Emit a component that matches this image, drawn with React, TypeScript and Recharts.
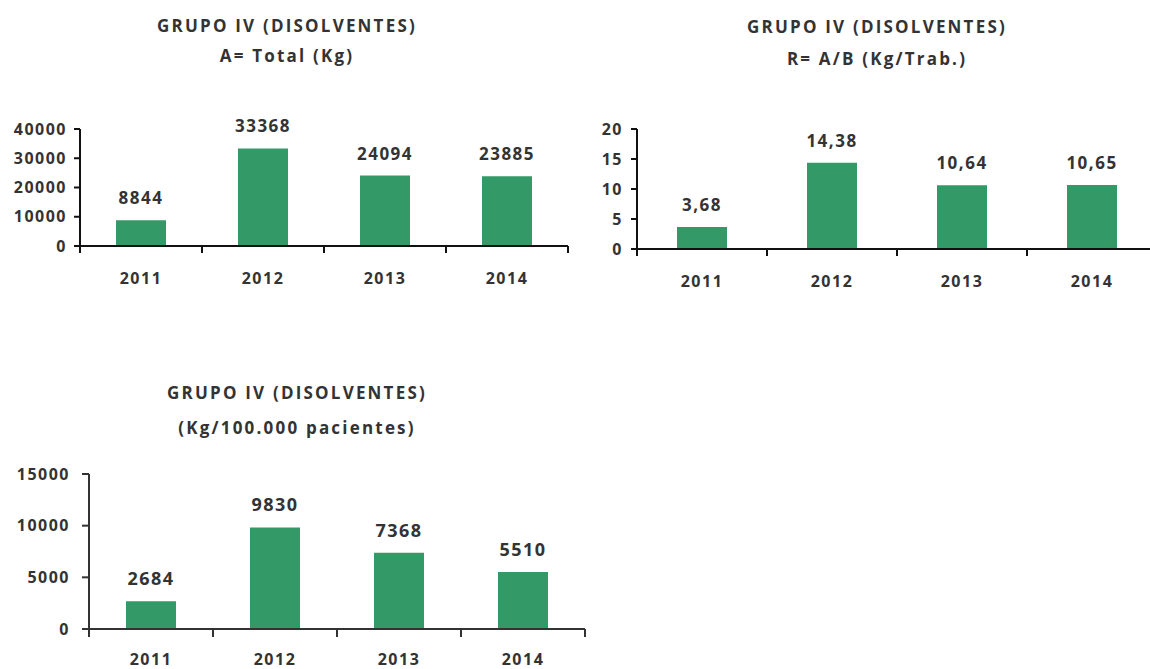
import { BarChart, Bar, XAxis, YAxis, LabelList } from "recharts";

const years = ["2011", "2012", "2013", "2014"];
const totalKg = [8844, 33368, 24094, 23885];
const kgPerWorker = [3.68, 14.38, 10.64, 10.65];
const kgPerPatients = [2684, 9830, 7368, 5510];

const totalTicks = [0, 10000, 20000, 30000, 40000];
const workerTicks = [0, 5, 10, 15, 20];
const patientTicks = [0, 5000, 10000, 15000];

const groupTitle = "GRUPO IV (DISOLVENTES)";
const subTitles = ["A= Total (Kg)", "R= A/B (Kg/Trab.)", "(Kg/100.000 pacientes)"];

const GREEN = "#339966";
const TEXT = "#333333";
const FONT = "'Open Sans', 'Liberation Sans', sans-serif";

type PanelProps = {
	left: number;
	top: number;
	width: number;
	height: number;
	margin: { top: number; right: number; left: number; bottom: number };
	yWidth: number;
	values: number[];
	ticks: number[];
	format?: (v: number) => string;
	title: string[];
	titleX: number;
	titleY: number;
	lineGap: number;
	labelSize: number;
	axisColor: string;
	tickLen: number;
	yMargin: number;
	catHeight: number;
	labelDy: number;
};

// category tick: label in the middle, tick marks on the band edges (Excel style)
function CatTick(props: any) {
	const { x, y, payload, index, band, tickLen, labelDy, color, count } = props;
	const half = band / 2;
	return (
		<g>
			<line x1={x - half} x2={x - half} y1={y} y2={y + tickLen} stroke={color} strokeWidth={2} />
			{index === count - 1 && (
				<line x1={x + half} x2={x + half} y1={y} y2={y + tickLen} stroke={color} strokeWidth={2} />
			)}
			<text
				x={x}
				y={y + labelDy}
				textAnchor="middle"
				fill={TEXT}
				fontSize={16}
				fontWeight={700}
				fontFamily={FONT}
			>
				{payload.value}
			</text>
		</g>
	);
}

function Panel(p: PanelProps) {
	const data = years.map((y, i) => ({ year: y, value: p.values[i] }));
	const fmt = p.format || ((v: number) => String(v));
	const band = (p.width - p.margin.left - p.margin.right - p.yWidth) / years.length;
	const tickStyle = { fill: TEXT, fontSize: 16, fontWeight: 700, fontFamily: FONT };
	return (
		<>
			<div
				style={{
					position: "absolute",
					left: p.titleX - 200,
					top: p.titleY,
					width: 400,
					textAlign: "center",
					fontFamily: FONT,
					fontWeight: 700,
					fontSize: 17,
					letterSpacing: 2.2,
					lineHeight: `${p.lineGap}px`,
					color: TEXT,
				}}
			>
				{p.title.map((t) => (
					<div key={t}>{t}</div>
				))}
			</div>
			<div
				style={{
					position: "absolute",
					left: p.left,
					top: p.top,
					letterSpacing: 1.5,
				}}
			>
				<BarChart width={p.width} height={p.height} data={data} margin={p.margin}>
					<XAxis
						dataKey="year"
						height={p.catHeight}
						axisLine={{ stroke: p.axisColor, strokeWidth: 2 }}
						tickLine={false}
						tickSize={0}
						tickMargin={0}
						interval={0}
						tick={
							<CatTick
								band={band}
								tickLen={p.tickLen}
								labelDy={p.labelDy}
								color={p.axisColor}
								count={years.length}
							/>
						}
					/>
					<YAxis
						width={p.yWidth}
						domain={[p.ticks[0], p.ticks[p.ticks.length - 1]]}
						ticks={p.ticks}
						interval={0}
						tickSize={p.tickLen - 1}
						tickMargin={p.yMargin}
						axisLine={{ stroke: p.axisColor, strokeWidth: 2 }}
						tickLine={{ stroke: p.axisColor, strokeWidth: 2 }}
						tick={tickStyle}
					/>
					<Bar dataKey="value" fill={GREEN} barSize={50} isAnimationActive={false}>
						<LabelList
							dataKey="value"
							position="top"
							offset={16}
							formatter={(v: any) => fmt(Number(v))}
							style={{ fill: TEXT, fontSize: p.labelSize, fontWeight: 700, fontFamily: FONT }}
						/>
					</Bar>
				</BarChart>
			</div>
		</>
	);
}

export default function App() {
	return (
		<div
			style={{
				position: "absolute",
				left: 0,
				top: 0,
				width: 1150,
				height: 669,
				overflow: "hidden",
				background: "#fff",
			}}
		>
			<Panel
				left={0}
				top={100}
				width={600}
				height={200}
				margin={{ top: 29, right: 32, left: 0, bottom: 0 }}
				yWidth={80}
				values={totalKg}
				ticks={totalTicks}
				title={[groupTitle, subTitles[0]]}
				titleX={287}
				titleY={11}
				lineGap={30}
				labelSize={17}
				axisColor="#111"
				tickLen={7}
				yMargin={7}
				catHeight={54}
				labelDy={38}
			/>
			<Panel
				left={560}
				top={100}
				width={600}
				height={200}
				margin={{ top: 29, right: 3, left: 0, bottom: 0 }}
				yWidth={77}
				values={kgPerWorker}
				ticks={workerTicks}
				format={(v) => v.toFixed(2).replace(".", ",")}
				title={[groupTitle, subTitles[1]]}
				titleX={877}
				titleY={11}
				lineGap={32}
				labelSize={17}
				axisColor="#111"
				tickLen={7}
				yMargin={8}
				catHeight={51}
				labelDy={38}
			/>
			<Panel
				left={0}
				top={450}
				width={600}
				height={219}
				margin={{ top: 24, right: 15, left: 0, bottom: 0 }}
				yWidth={89}
				values={kgPerPatients}
				ticks={patientTicks}
				title={[groupTitle, subTitles[2]]}
				titleX={297}
				titleY={375}
				lineGap={35}
				labelSize={18}
				axisColor="#333"
				tickLen={8}
				yMargin={12}
				catHeight={40}
				labelDy={36}
			/>
		</div>
	);
}
